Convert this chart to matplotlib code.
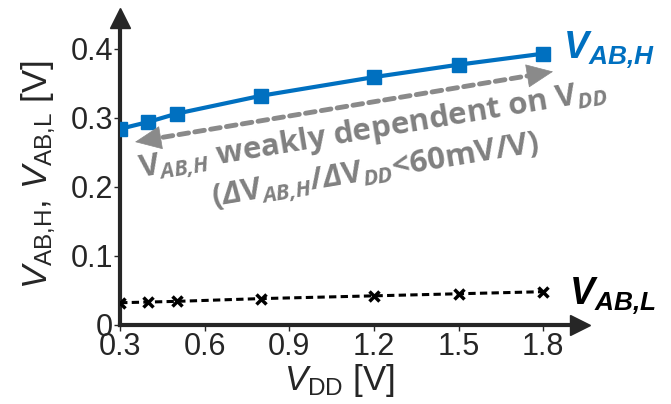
import matplotlib
matplotlib.use("Agg")
import matplotlib.pyplot as plt

plt.rcParams['font.family'] = ['Liberation Sans', 'DejaVu Sans']
plt.rcParams['mathtext.fontset'] = 'custom'
plt.rcParams['mathtext.rm'] = 'Liberation Sans'
plt.rcParams['mathtext.it'] = 'Liberation Sans:italic'
plt.rcParams['mathtext.bf'] = 'Liberation Sans:bold'
plt.rcParams['mathtext.bfit'] = 'Liberation Sans:bold:italic'
plt.rcParams['mathtext.sf'] = 'Open Sans:bold'
plt.rcParams['mathtext.cal'] = 'Open Sans:bold:italic'

vdd = [0.3, 0.4, 0.5, 0.8, 1.2, 1.5, 1.8]
vab_h = [0.284, 0.294, 0.306, 0.332, 0.359, 0.377, 0.393]
vab_l = [0.032, 0.033, 0.034, 0.038, 0.042, 0.045, 0.048]
xticks = [0.3, 0.6, 0.9, 1.2, 1.5, 1.8]
yticks = [0, 0.1, 0.2, 0.3, 0.4]

dark = '#262626'
blue = '#0070C0'
gray = '#808080'
agray = '#8a8a8a'

fig = plt.figure(figsize=(6.71, 4.04), dpi=100)
ax = fig.add_axes([0.179, 0.196, 0.6855, 0.760])
ax.set_xlim(0.3, 1.931)
ax.set_ylim(0, 0.445)

ax.plot(vdd, vab_h, color=blue, lw=3, marker='s', ms=9.5, zorder=3)
ax.plot(vdd, vab_l, color='black', lw=2.2, ls=(0, (2.4, 1.4)), marker='x', ms=6.5,
        mew=2.5, zorder=3)

for s in ['top', 'right']:
    ax.spines[s].set_visible(False)
for s in ['left', 'bottom']:
    ax.spines[s].set_linewidth(3)
    ax.spines[s].set_color(dark)
ax.plot(0, 1, marker='^', ms=15, color=dark, transform=ax.transAxes, clip_on=False)
ax.plot(1, 0, marker='>', ms=15, color=dark, transform=ax.transAxes, clip_on=False)

ax.set_xticks(xticks)
ax.set_xticklabels(['0.3', '0.6', '0.9', '1.2', '1.5', '1.8'])
ax.set_yticks(yticks)
ax.set_yticklabels(['0', '0.1', '0.2', '0.3', '0.4'])
ax.tick_params(direction='out', length=4, width=1, colors=dark, labelsize=22, pad=1)

ax.set_xlabel(r'$V_{\mathrm{DD}}$ [V]', fontsize=25, color=dark, labelpad=0)
ax.xaxis.set_label_coords(0.476, -0.12)
ax.set_ylabel(r'$V_{\mathrm{AB{,}H}}$, $V_{\mathrm{AB{,}L}}$ [V]', fontsize=25, color=dark)
ax.yaxis.set_label_coords(-0.135, 0.49)

ax.text(1.872, 0.397, r'$\mathbfit{V}_{\mathbfit{AB{,}H}}$', color=blue, fontsize=27,
        ha='left', va='center', clip_on=False)
ax.text(1.890, 0.041, r'$\mathbfit{V}_{\mathbfit{AB{,}L}}$', color='black', fontsize=27,
        ha='left', va='center', clip_on=False)

# double-headed dashed arrow
ax.annotate('', xy=(0.353, 0.265), xytext=(1.835, 0.367),
            arrowprops=dict(arrowstyle='-', linestyle=(0, (2.0, 1.3)), lw=3.5,
                            color=agray, shrinkA=12, shrinkB=12))
ax.annotate('', xy=(0.353, 0.265), xytext=(0.40, 0.2682),
            arrowprops=dict(arrowstyle='-|>,head_length=0.9,head_width=0.4', lw=0.5,
                            color=agray, mutation_scale=20, shrinkA=0, shrinkB=0))
ax.annotate('', xy=(1.835, 0.367), xytext=(1.788, 0.3638),
            arrowprops=dict(arrowstyle='-|>,head_length=0.9,head_width=0.4', lw=0.5,
                            color=agray, mutation_scale=20, shrinkA=0, shrinkB=0))

ax.text(1.198, 0.280,
        r'$\mathsf{V}_{\mathcal{AB{,}H}}$ weakly dependent on $\mathsf{V}_{\mathcal{DD}}$',
        family='Open Sans', weight='bold', color=gray, fontsize=22.5,
        rotation=9.5, rotation_mode='anchor', ha='center', va='center')
ax.text(1.205, 0.221,
        r'($\mathcal{Δ}\mathsf{V}_{\mathcal{AB{,}H}}$/$\mathcal{Δ}\mathsf{V}_{\mathcal{DD}}$<60mV/V)',
        family='Open Sans', weight='bold', color=gray, fontsize=22.5,
        rotation=9.5, rotation_mode='anchor', ha='center', va='center')

fig.savefig('out.png', dpi=100)
